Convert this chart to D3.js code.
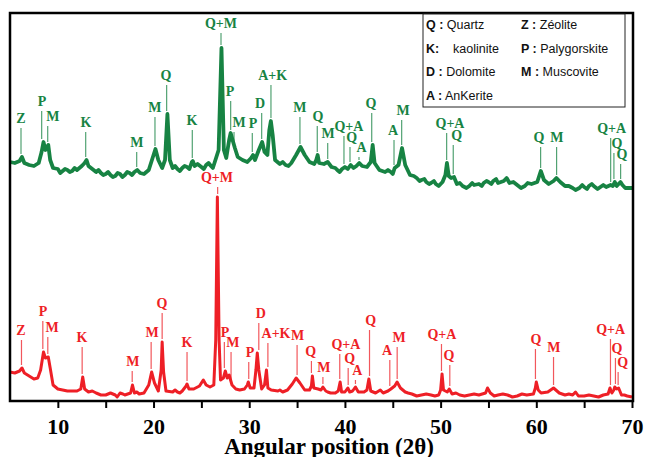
<!DOCTYPE html>
<html>
<head>
<meta charset="utf-8">
<script src="https://cdn.jsdelivr.net/npm/d3@7"></script>
<style>
  body { margin: 0; background: #fff; }
  svg { display: block; }
</style>
</head>
<body>
<script>
// XRD patterns: [2theta, intensity (a.u.)]
const redPattern = [
  [5.0,29],[5.5,28],[6.0,30],[6.25,33],[6.5,28],[7.0,25],[7.5,22],[7.9,23],[8.2,31],[8.5,49],
  [8.7,43],[9.0,44],[9.2,33],[9.5,16],[10.0,12],[10.5,11],[11.0,10],[11.5,10],[12.0,10],[12.4,12],
  [12.6,24],[12.8,12],[13.2,9],[13.6,10],[14.0,8],[14.5,6],[15.0,6],[15.5,8],[16.0,6],[16.2,4],[16.5,8],
  [16.8,7],[17.0,6],[17.6,8],[17.8,16],[18.0,8],[18.25,9],[18.5,7],[19.0,8],[19.5,16],[19.8,29],[20.1,18],
  [20.5,10],[20.8,31],[20.9,59],[21.05,29],[21.3,10],[22.0,9],[22.25,11],[22.5,9],[22.75,8],[23.0,10],
  [23.4,15],[23.5,17],[23.7,12],[24.2,12],[24.8,15],[25.2,21],[25.5,16],[25.9,14],[26.3,16],[26.5,61],
  [26.67,204],[26.85,61],[27.0,21],[27.3,23],[27.5,30],[27.7,23],[27.9,26],[28.2,16],[28.6,12],[29.0,11],
  [29.5,12],[29.8,16],[29.9,19],[30.1,13],[30.5,13],[30.7,31],[30.84,48],[31.0,31],[31.3,12],[31.6,16],
  [31.8,31],[31.95,13],[32.3,11],[33.0,10],[33.2,11],[33.5,9],[34.0,11],[34.5,17],[34.9,23],[35.3,18],
  [35.8,11],[36.3,11],[36.5,15],[36.6,25],[36.75,13],[37.2,12],[37.5,11],[37.7,14],[38.0,10],[38.2,9],
  [38.5,8],[39.0,8],[39.3,10],[39.5,19],[39.65,9],[40.0,9],[40.3,13],[40.5,9],[40.8,10],[41.1,14],
  [41.4,9],[42.0,9],[42.3,11],[42.5,22],[42.7,10],[43.2,8],[43.7,11],[44.0,8],[44.5,10],[44.8,12],
  [45.2,15],[45.45,19],[45.8,13],[46.3,9],[46.6,8],[47.0,7],[47.5,5],[48.0,6],[48.5,7],[49.0,6],
  [49.4,5],[49.8,6],[50.0,11],[50.15,27],[50.3,11],[50.7,9],[50.9,12],[51.2,7],[51.6,8],[52.0,6],
  [52.5,5],[53.0,6],[53.5,7],[54.0,6],[54.7,8],[54.9,13],[55.2,8],[55.6,5],[56.0,6],[56.5,7],
  [57.0,6],[57.5,4],[58.0,5],[58.5,7],[59.0,6],[59.7,7],[59.9,13],[60.0,19],[60.2,11],[60.5,8],
  [61.2,9],[61.8,13],[62.4,8],[63.0,6],[63.4,7],[63.8,6],[64.1,9],[64.4,5],[65.0,5],[65.5,6],
  [66.0,5],[66.5,4],[67.0,6],[67.5,7],[67.7,13],[67.9,8],[68.1,11],[68.2,14],[68.4,12],[68.6,13],
  [68.9,6],[69.2,6],[69.5,5],[70.0,4]
];

const greenPattern = [
  [5.0,239],[5.5,238],[6.0,240],[6.25,244],[6.5,238],[7.0,236],[7.5,235],[8.0,238],[8.3,249],[8.5,259],
  [8.7,251],[9.0,256],[9.2,241],[9.5,233],[10.0,232],[10.25,228],[10.5,230],[10.75,232],[11.0,231],[11.25,229],
  [11.5,230],[11.75,233],[12.0,231],[12.5,235],[12.8,238],[13.0,241],[13.2,235],[13.6,232],[14.0,229],[14.25,231],
  [14.5,228],[14.75,226],[15.0,227],[15.25,229],[15.5,226],[15.75,224],[16.0,225],[16.25,228],[16.5,227],[16.75,224],
  [17.0,226],[17.25,229],[17.5,228],[17.75,226],[18.0,229],[18.3,231],[18.6,228],[19.0,227],[19.5,231],[19.9,243],
  [20.2,252],[20.5,241],[20.9,233],[21.2,241],[21.45,287],[21.7,241],[22.0,233],[22.25,235],[22.5,232],[22.75,230],
  [23.0,233],[23.25,235],[23.5,234],[23.75,232],[24.0,239],[24.1,240],[24.3,235],[24.6,237],[25.0,234],[25.25,232],
  [25.5,236],[25.75,238],[26.0,235],[26.2,233],[26.4,239],[26.8,251],[27.1,353],[27.35,251],[27.6,243],[27.9,261],
  [28.06,268],[28.2,263],[28.5,253],[28.8,244],[29.3,241],[29.8,239],[30.2,243],[30.4,246],[30.6,241],[31.0,251],
  [31.35,259],[31.6,249],[31.9,246],[32.1,271],[32.26,280],[32.45,266],[32.7,241],[33.2,237],[33.5,239],[33.8,236],
  [34.1,235],[34.4,238],[34.9,246],[35.36,254],[35.8,246],[36.3,239],[36.8,237],[37.0,241],[37.15,246],[37.3,238],
  [37.8,237],[38.2,239],[38.6,234],[39.0,233],[39.2,231],[39.45,229],[39.7,232],[40.0,234],[40.3,232],[40.6,236],
  [40.9,233],[41.2,235],[41.5,238],[41.8,235],[42.3,234],[42.7,239],[42.9,256],[43.1,238],[43.6,231],[44.2,229],
  [44.5,231],[44.8,229],[45.0,227],[45.2,233],[45.6,236],[45.97,253],[46.3,236],[46.8,226],[47.2,225],[47.5,223],
  [47.8,220],[48.0,221],[48.3,222],[48.5,219],[48.8,217],[49.0,218],[49.3,220],[49.5,217],[49.8,215],[50.2,219],
  [50.5,226],[50.66,238],[50.85,225],[51.1,223],[51.4,224],[51.7,217],[52.0,218],[52.3,215],[52.7,213],[53.0,215],
  [53.3,218],[53.5,216],[54.0,217],[54.3,215],[54.5,218],[54.8,220],[55.0,219],[55.3,217],[55.5,220],[55.8,222],
  [56.0,218],[56.6,220],[56.9,223],[57.2,218],[57.6,219],[58.0,216],[58.4,213],[58.8,215],[59.1,218],[59.5,217],
  [60.1,219],[60.47,230],[60.8,221],[61.3,217],[61.8,220],[62.1,223],[62.5,219],[63.0,215],[63.4,215],[63.8,213],
  [64.1,211],[64.5,213],[64.8,216],[65.0,214],[65.3,212],[65.5,215],[65.8,217],[66.0,215],[66.4,212],[66.7,214],
  [67.0,216],[67.3,214],[67.77,216],[68.0,215],[68.2,219],[68.4,215],[68.6,217],[68.8,219],[69.0,216],[69.3,213],
  [69.7,213],[70.0,213]
];

// peak labels: [phase, line 2theta, text 2theta, text level (a.u.)]
const greenPeaks = [
  ["Z",6.15,6.15,278],["P",8.31,8.34,295],["M",8.94,9.49,280],["K",12.91,12.94,274],
  ["M",18.24,18.27,254],["M",20.15,20.15,289],["Q",21.37,21.3,321],["K",24.05,24.02,276],
  ["Q+M",27.05,27.05,373],["P",28.06,27.99,305],["M",28.41,28.93,274],["P",30.32,30.39,273],
  ["D",31.3,31.12,293],["A+K",32.27,32.45,321],["M",35.3,35.3,289],["Q",37.11,37.18,280],
  ["M",38.2,38.23,263],["Q+A",39.9,40.42,270],["Q",40.53,40.71,259],["A",41.47,41.75,249],
  ["Q",42.8,42.72,293],["A",45.13,45.02,266],["M",45.93,46.07,286],["Q+A",50.63,50.98,273],
  ["Q",51.32,51.68,261],["Q",60.45,60.28,259],["M",62.12,62.16,259],["Q+A",67.77,67.87,268],
  ["Q",68.11,68.43,253],["Q",68.81,68.95,242]
];

const redPeaks = [
  ["Z",6.2,6.15,66],["P",8.43,8.45,85],["M",8.95,9.39,69],["K",12.54,12.52,59],
  ["M",17.77,17.85,35],["M",19.75,19.84,64],["Q",20.9,20.88,93],["K",23.5,23.5,54],
  ["Q+M",26.7,26.63,219],["P",27.4,27.47,64],["M",28.1,28.3,54],["P",29.95,30.08,44],
  ["D",31.0,31.2,83],["A+K",31.95,32.8,63],["M",35.0,35.06,61],["Q",36.5,36.43,45],
  ["M",37.7,37.8,29],["Q+A",39.46,40.1,52],["Q",40.34,40.5,38],["A",41.1,41.3,26],
  ["Q",42.57,42.7,76],["A",44.69,44.4,46],["M",45.46,45.65,59],["Q+A",50.09,50.14,62],
  ["Q",50.96,50.87,41],["Q",59.91,59.96,57],["M",61.8,61.84,49],["Q+A",67.75,67.77,67],
  ["Q",68.27,68.43,48],["Q",68.55,69.02,34]
];

// legend
const legendLeft = [["Q :", " Quartz"], ["K:", "    kaolinite"], ["D :", " Dolomite"], ["A :", " AnKerite"]];
const legendRight = [["Z :", " Zéolite"], ["P :", " Palygorskite"], ["M :", " Muscovite"]];

const majorTicks = [10, 20, 30, 40, 50, 60, 70];
const minorTicks = [15, 25, 35, 45, 55, 65];

let width = 646, height = 457;
let margin = { top: 13, bottom: 56, left: 10, right: 14 };

const greenColor = "#178343", redColor = "#ee1f26";
const serif = "'Liberation Serif', 'Times New Roman', serif";
const sans = "'Liberation Sans', Arial, sans-serif";

let svg = d3.select('body')
            .append('svg')
            .attr('width', width)
            .attr('height', height);

const x = d3.scaleLinear()
    .domain([5, 70])
    .range([margin.left, width - margin.right]);

const y = d3.scaleLinear()
    .domain([0, 388])
    .range([height - margin.bottom, margin.top]);

// traces
const line = d3.line()
    .x(d => x(d[0]))
    .y(d => y(d[1]));

svg.append("path")
   .datum(greenPattern)
   .attr("fill", "none")
   .attr("stroke", greenColor)
   .attr("stroke-width", 3.8)
   .attr("stroke-linejoin", "round")
   .attr("d", line);

svg.append("path")
   .datum(redPattern)
   .attr("fill", "none")
   .attr("stroke", redColor)
   .attr("stroke-width", 3)
   .attr("stroke-linejoin", "round")
   .attr("d", line);

// highest point of a trace close to a marker line
function peakTop(pattern, t) {
    const near = pattern.filter(d => Math.abs(d[0] - t) <= 0.2);
    return d3.max(near, d => d[1]);
}

function drawPeaks(peaks, pattern, color) {
    const g = svg.append("g");
    peaks.forEach(p => {
        const top = peakTop(pattern, p[1]);
        g.append("line")
         .attr("x1", x(p[1]))
         .attr("x2", x(p[1]))
         .attr("y1", y(p[3]) + 5)
         .attr("y2", y(top) - 3)
         .attr("stroke", color)
         .attr("stroke-opacity", 0.75)
         .attr("stroke-width", 1.2);
        g.append("text")
         .attr("x", x(p[2]))
         .attr("y", y(p[3]))
         .attr("text-anchor", "middle")
         .attr("font-family", serif)
         .attr("font-weight", "bold")
         .attr("font-size", 14)
         .attr("fill", color)
         .text(p[0]);
    });
}

drawPeaks(greenPeaks, greenPattern, greenColor);
drawPeaks(redPeaks, redPattern, redColor);

// frame
svg.append("rect")
   .attr("x", margin.left)
   .attr("y", margin.top)
   .attr("width", width - margin.right - margin.left + 1)
   .attr("height", height - margin.bottom - margin.top)
   .attr("fill", "none")
   .attr("stroke", "#000")
   .attr("stroke-width", 2.5);

// x axis
const xAxis = svg.append("g")
   .attr("transform", `translate(0,${height - margin.bottom})`)
   .call(d3.axisBottom(x).tickValues(majorTicks).tickSize(7).tickPadding(10).tickFormat(d3.format("d")));
xAxis.select(".domain").remove();
xAxis.selectAll("line").attr("stroke-width", 2);
xAxis.selectAll("text")
     .attr("font-family", serif)
     .attr("font-weight", "bold")
     .attr("font-size", 22)
     .attr("fill", "#000");

const xMinor = svg.append("g")
   .attr("transform", `translate(0,${height - margin.bottom})`)
   .call(d3.axisBottom(x).tickValues(minorTicks).tickSize(7).tickFormat(""));
xMinor.select(".domain").remove();
xMinor.selectAll("line").attr("stroke-width", 2);

// x label
svg.append("text")
   .attr("x", 329)
   .attr("y", 454)
   .attr("text-anchor", "middle")
   .attr("font-family", serif)
   .attr("font-weight", "bold")
   .attr("font-size", 23)
   .text("Angular position (2θ)");

// legend box
const legend = svg.append("g").attr("transform", "translate(423,14)");
legend.append("rect")
      .attr("width", 202)
      .attr("height", 93)
      .attr("fill", "#fff")
      .attr("stroke", "#222")
      .attr("stroke-width", 1);

function legendItem(item, lx, ly) {
    const t = legend.append("text")
          .attr("x", lx)
          .attr("y", ly)
          .attr("font-family", sans)
          .attr("font-size", 12.5)
          .style("white-space", "pre")
          .attr("fill", "#111");
    t.append("tspan").attr("font-weight", "bold").text(item[0]);
    t.append("tspan").text(item[1]);
}

legendLeft.forEach((item, i) => legendItem(item, 3, 15 + i * 23.5));
legendRight.forEach((item, i) => legendItem(item, 98, 15 + i * 23.5));
</script>
</body>
</html>
